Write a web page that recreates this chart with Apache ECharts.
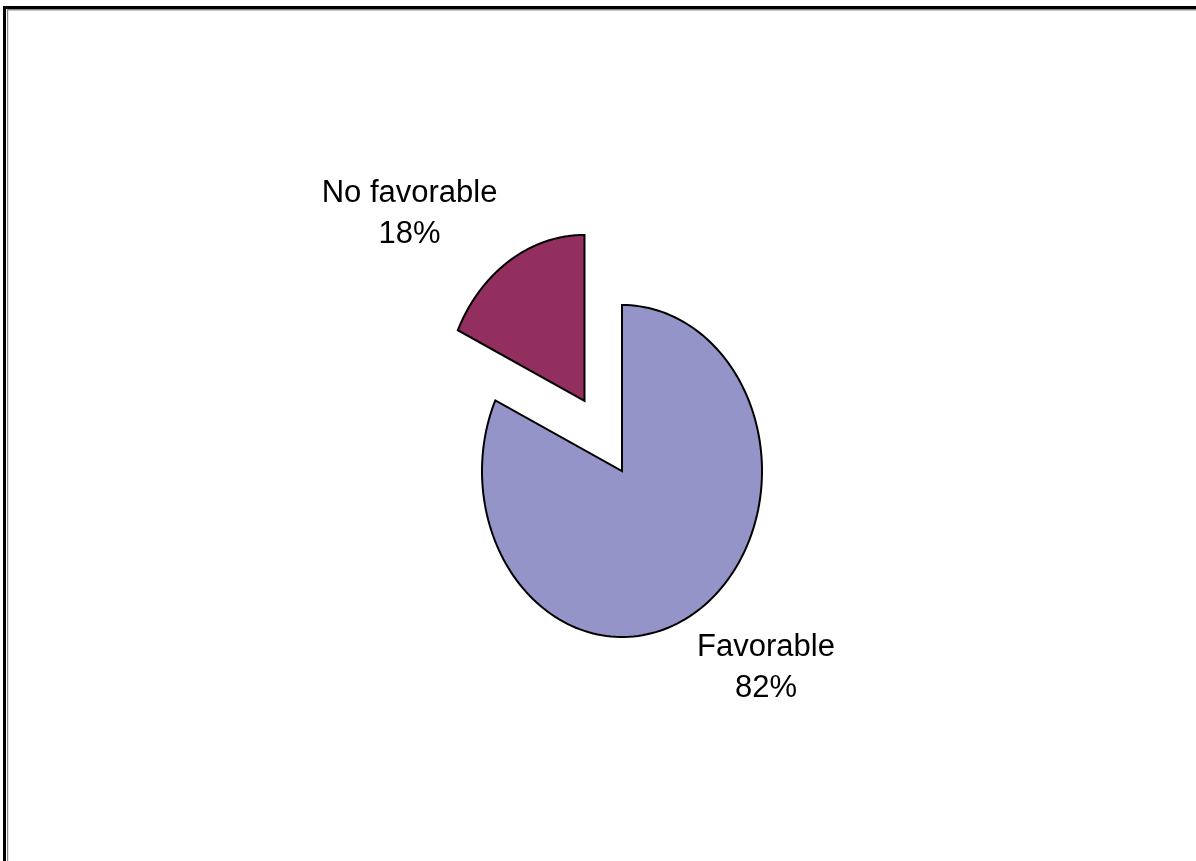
<!DOCTYPE html>
<html><head><meta charset="utf-8">
<script src="https://cdn.jsdelivr.net/npm/echarts@6/dist/echarts.min.js"></script>
<style>html,body{margin:0;padding:0;background:#fff;}#chart{width:1196px;height:861px;}</style>
</head><body><div id="chart"></div>
<script>
const categories = ['Favorable', 'No favorable'];
const values = [82, 18];
const colors = ['#9494C8', '#932F5E'];
const explode = [0, 0.5];

const FONT_SIZE = 31, LINE_H = 41, FONT_FAM = "'Liberation Sans', Arial, sans-serif";
const total = values.reduce((a, b) => a + b, 0);
const mctx = document.createElement('canvas').getContext('2d');
mctx.font = FONT_SIZE + 'px ' + FONT_FAM;

function renderItem(params, api) {
  const i = params.dataIndex;
  let start = 0;
  for (let k = 0; k < i; k++) start += values[k];
  const t0 = (90 - 360 * start / total) * Math.PI / 180;
  const t1 = (90 - 360 * (start + values[i]) / total) * Math.PI / 180;
  const tm = (t0 + t1) / 2;
  const ox = explode[i] * Math.cos(tm), oy = explode[i] * Math.sin(tm);
  const pts = [api.coord([ox, oy])];
  const N = 160;
  for (let s = 0; s <= N; s++) {
    const t = t0 + (t1 - t0) * s / N;
    pts.push(api.coord([ox + Math.cos(t), oy + Math.sin(t)]));
  }
  const anchor = api.coord([ox + Math.cos(tm), oy + Math.sin(tm)]);
  const pct = Math.round(values[i] / total * 100);
  const lines = [categories[i], pct + '%'];
  const w = Math.max.apply(null, lines.map(l => mctx.measureText(l).width));
  const right = Math.cos(tm) > 0, upper = Math.sin(tm) > 0;
  const gapX = right ? 0 : 12, gapY = upper ? 6 : 16;
  const cx = right ? anchor[0] + gapX + w / 2 : anchor[0] - gapX - w / 2;
  const ty = upper ? anchor[1] - gapY : anchor[1] + gapY;
  return {
    type: 'group',
    children: [
      { type: 'polygon', shape: { points: pts },
        style: { fill: colors[i], stroke: '#000', lineWidth: 2, lineJoin: 'miter' } },
      { type: 'text',
        style: { text: lines.join('\n'), x: cx, y: ty, align: 'center',
          verticalAlign: upper ? 'bottom' : 'top', fontSize: FONT_SIZE,
          fontFamily: FONT_FAM, lineHeight: LINE_H, fill: '#000' } }
    ]
  };
}

const chart = echarts.init(document.getElementById('chart'), null, { renderer: 'canvas' });
chart.setOption({
  backgroundColor: '#fff',
  animation: false,
  grid: { left: 482, top: 305, width: 280, height: 332 },
  xAxis: { type: 'value', min: -1, max: 1, show: false },
  yAxis: { type: 'value', min: -1, max: 1, show: false },
  graphic: [
    { type: 'rect', shape: { x: 3, y: 6, width: 1193, height: 3 }, style: { fill: '#000' } },
    { type: 'rect', shape: { x: 7, y: 9, width: 1189, height: 1.5 }, style: { fill: '#8a8a8a' } },
    { type: 'rect', shape: { x: 3, y: 6, width: 3, height: 855 }, style: { fill: '#000' } },
    { type: 'rect', shape: { x: 7, y: 9, width: 1.2, height: 852 }, style: { fill: '#8a8a8a' } }
  ],
  series: [{
    type: 'custom',
    clip: false,
    renderItem: renderItem,
    data: values.map((v, i) => ({ name: categories[i], value: [0, 0, v] }))
  }]
});
</script></body></html>
